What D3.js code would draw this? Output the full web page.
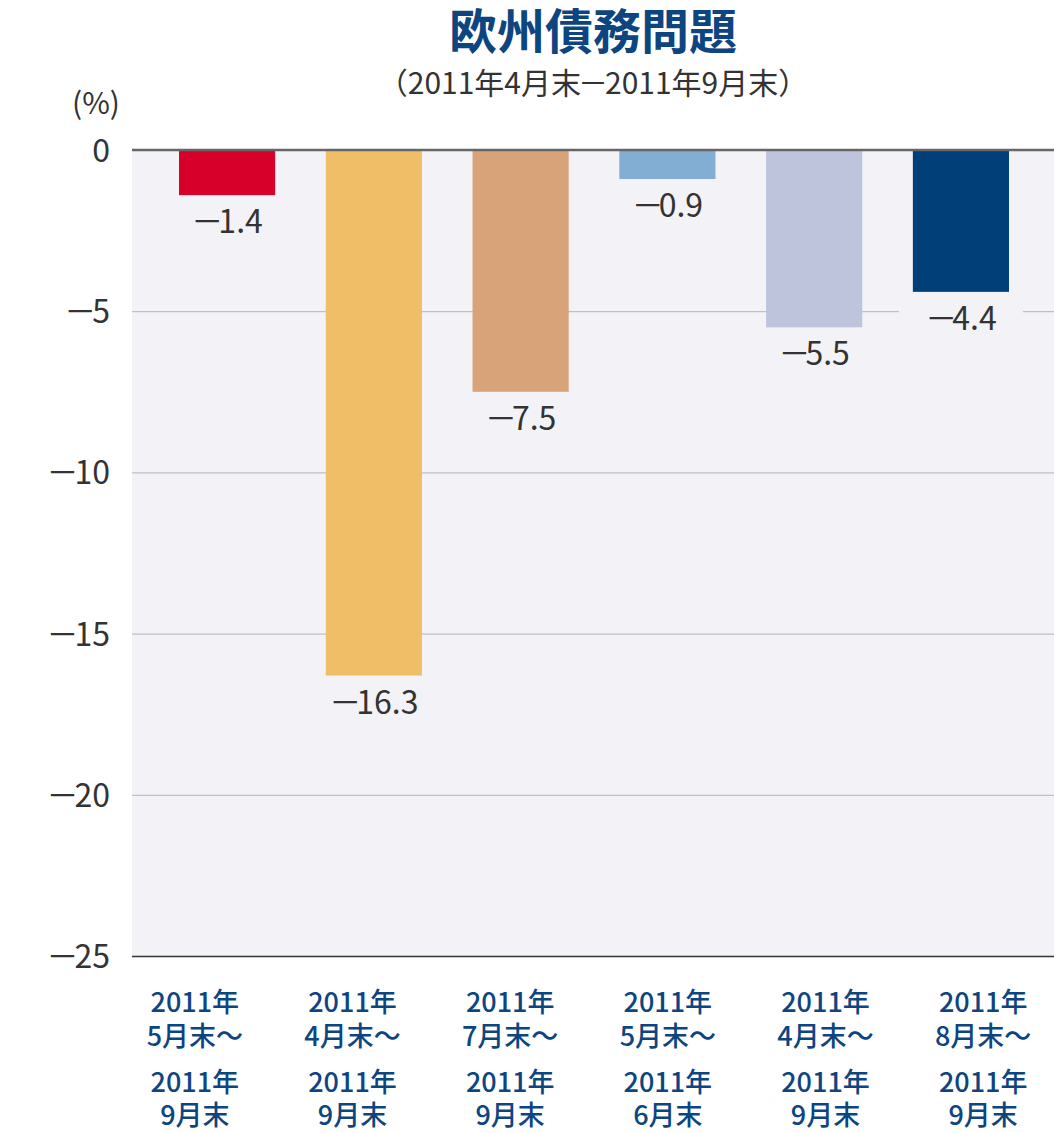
<!DOCTYPE html>
<html>
<head>
<meta charset="utf-8">
<script src="https://cdn.jsdelivr.net/npm/d3@7"></script>
<style>
  body { margin: 0; background: #fff; }
  text { font-family: "Noto Sans CJK JP", "Noto Sans", sans-serif; }
</style>
</head>
<body>
<div id="container"></div>
<script>
let w = 1054;
let h = 1133;

// data
let startMonths = ["5月末～", "4月末～", "7月末～", "5月末～", "4月末～", "8月末～"];
let endMonths = ["9月末", "9月末", "9月末", "6月末", "9月末", "9月末"];
let years = ["2011年", "2011年", "2011年", "2011年", "2011年", "2011年"];
let values = [-1.4, -16.3, -7.5, -0.9, -5.5, -4.4];
let colors = ["#d7002a", "#efbe67", "#d8a378", "#82aed4", "#bec4dc", "#003f78"];
let yTicks = [0, -5, -10, -15, -20, -25];

let ids = d3.range(values.length);
let minus = "－";

// writes a negative number as a wide minus pulled close to its digits
function putNumber(sel, v, digits, pull) {
  if (v < 0) {
    sel.append("tspan").style("letter-spacing", (-pull) + "px").text(minus);
    sel.append("tspan").text(Math.abs(v).toFixed(digits));
  } else {
    sel.append("tspan").text(v.toFixed(digits));
  }
}

let viz = d3.select("#container")
  .append("svg")
    .attr("width", w)
    .attr("height", h)
    .style("background-color", "#ffffff");

// plot area
let plotLeft = 132, plotRight = 1054, plotTop = 150, plotBottom = 956;

let yScale = d3.scaleLinear().domain([0, -25]).range([plotTop, plotBottom]);
// bars
let xScale = d3.scaleBand().domain(ids).range([179, 1009]).paddingInner(0.345).paddingOuter(0);
// category labels sit on a slightly wider spacing
let labelScale = d3.scaleBand().domain(ids).range([116, 1062]);

// titles
viz.append("text")
  .attr("x", 593).attr("y", 49)
  .attr("text-anchor", "middle")
  .attr("font-size", 48).attr("font-weight", 700)
  .attr("fill", "#0d4581")
  .text("欧州債務問題");

let sub = viz.append("text")
  .attr("x", 593).attr("y", 94)
  .attr("text-anchor", "middle")
  .attr("font-size", 30)
  .attr("fill", "#333");
sub.append("tspan").text("（2011年4月");
sub.append("tspan").style("letter-spacing", "-3px").text("末");
sub.append("tspan").style("letter-spacing", "-3px").text(minus);
sub.append("tspan").text("2011年9月末）");

viz.append("text")
  .attr("x", 96).attr("y", 114)
  .attr("text-anchor", "middle")
  .attr("font-size", 30)
  .attr("fill", "#333")
  .text("(%)");

// background
viz.append("rect")
  .attr("x", plotLeft).attr("y", plotTop)
  .attr("width", plotRight - plotLeft).attr("height", plotBottom - plotTop)
  .attr("fill", "#f2f2f7");

// grid via axis
let yAxis = d3.axisLeft(yScale).tickValues(yTicks)
  .tickSize(-(plotRight - plotLeft))
  .tickFormat("");
let yAxisGroup = viz.append("g").attr("class", "yaxis")
  .attr("transform", "translate(" + plotLeft + ",0)")
  .call(yAxis);
yAxisGroup.select(".domain").remove();
yAxisGroup.selectAll(".tick line")
  .attr("stroke", d => d === -25 ? "#333" : "#b3b3b8")
  .attr("stroke-width", d => d === -25 ? 1.5 : 1);
yAxisGroup.selectAll(".tick text")
  .attr("x", -22).attr("dy", "0.36em")
  .attr("font-size", 32)
  .attr("fill", "#333")
  .style("font-family", "'Noto Sans CJK JP', sans-serif")
  .each(function(d) { putNumber(d3.select(this), d, 0, 4); });

// bars
let bars = viz.append("g").attr("class", "bars");
bars.selectAll("rect").data(ids).enter()
  .append("rect")
    .attr("x", d => xScale(d))
    .attr("y", yScale(0))
    .attr("width", xScale.bandwidth())
    .attr("height", d => yScale(values[d]) - yScale(0))
    .attr("fill", d => colors[d]);

// zero line on top
viz.append("line")
  .attr("x1", plotLeft).attr("x2", plotRight)
  .attr("y1", yScale(0)).attr("y2", yScale(0))
  .attr("stroke", "#666").attr("stroke-width", 2.5);

// value labels with background patch
let vlab = viz.append("g").attr("class", "valuelabels")
  .selectAll("g").data(ids).enter().append("g")
  .attr("transform", d => "translate(" + (xScale(d) + xScale.bandwidth() / 2) + "," + (yScale(values[d]) + 38) + ")");
vlab.append("rect")
  .attr("x", -62).attr("y", -30).attr("width", 124).attr("height", 38)
  .attr("fill", "#f2f2f7");
vlab.append("text")
  .attr("text-anchor", "middle")
  .attr("font-size", 32)
  .attr("fill", "#333")
  .each(function(d) { putNumber(d3.select(this), values[d], 1, 5); });

// category labels
let clab = viz.append("g").attr("class", "catlabels")
  .selectAll("text").data(ids).enter().append("text")
  .attr("text-anchor", "middle")
  .attr("font-size", 27).attr("font-weight", 500)
  .attr("fill", "#0d4581");
let lineYs = [1012, 1046, 1092, 1125];
clab.each(function(d) {
  let t = d3.select(this);
  let x = labelScale(d) + labelScale.bandwidth() / 2;
  [years[d], startMonths[d], years[d], endMonths[d]].forEach(function(s, i) {
    t.append("tspan").attr("x", x).attr("y", lineYs[i]).text(s);
  });
});
</script>
</body>
</html>
